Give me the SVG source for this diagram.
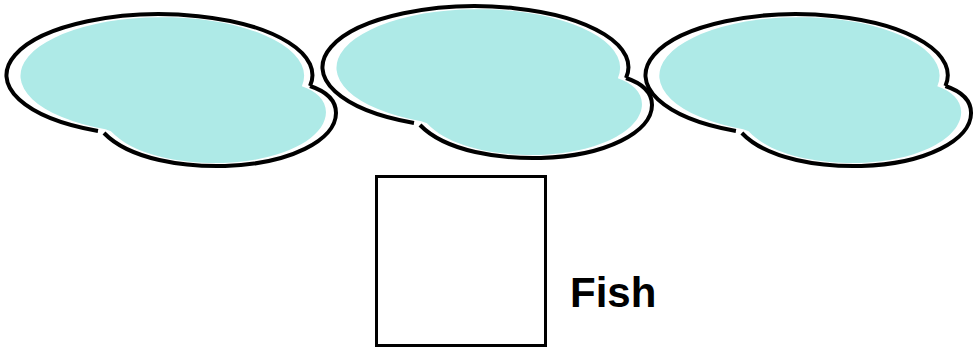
<svg xmlns="http://www.w3.org/2000/svg" width="974" height="348" viewBox="0 0 974 348">
<style>
.fill{fill:#aeeae7;stroke:none}
.line{fill:none;stroke:#000;stroke-width:4;stroke-linecap:butt;stroke-linejoin:round}
.box{fill:#fff;stroke:#000;stroke-width:3}
.lbl{font-family:"Liberation Sans",Arial,sans-serif;font-weight:bold;font-size:42px;fill:#000}
</style>
<defs>
<path id="cloudFill" d="M 310 86 A 153 61 0 1 0 98 131 L 104 133 C 130 160 185 167 225 166 C 290 164 336 140 336 113 C 336 100 325 91 310 86 Z"/>
<path id="cloudLine" d="M 310 86 A 153 61 0 1 0 98 131 M 104 133 C 130 160 185 167 225 166 C 290 164 336 140 336 113 C 336 100 325 91 310 86"/>
</defs>
<g id="cloud1">
<use href="#cloudFill" class="fill" transform="translate(14.5 3.6) scale(0.927 0.96)"/>
<use href="#cloudLine" class="line"/>
</g>
<g id="cloud2" transform="translate(316 -8)">
<use href="#cloudFill" class="fill" transform="translate(14.5 3.6) scale(0.927 0.96)"/>
<use href="#cloudLine" class="line"/>
</g>
<g id="cloud3" transform="translate(639.1 0) scale(0.988 1)">
<use href="#cloudFill" class="fill" transform="translate(14.5 3.6) scale(0.927 0.96)"/>
<use href="#cloudLine" class="line"/>
</g>
<g id="fishBox">
<rect class="box" x="376.5" y="176.5" width="169" height="169"/>
</g>
<g id="fishLabel">
<text class="lbl" x="570" y="307">Fish</text>
</g>
<g id="connectors"></g>
</svg>
